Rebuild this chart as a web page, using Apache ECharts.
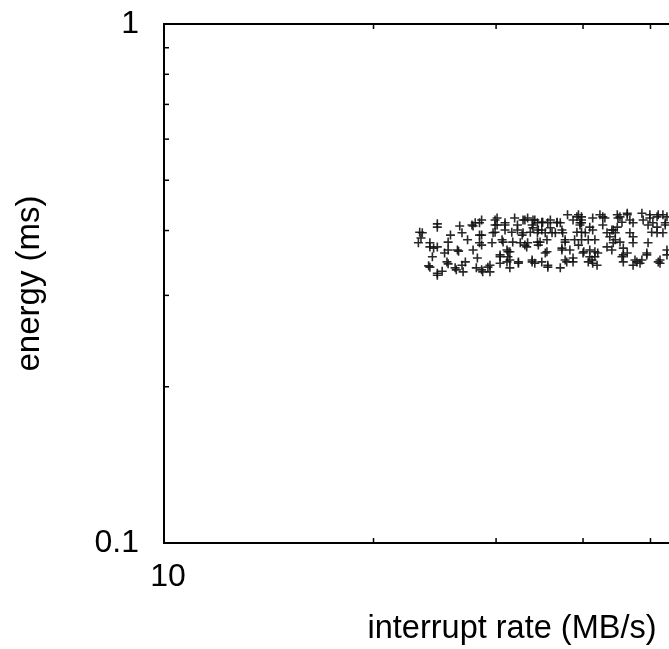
<!DOCTYPE html>
<html>
<head>
<meta charset="utf-8">
<script src="https://cdn.jsdelivr.net/npm/echarts@6/dist/echarts.min.js"></script>
<style>
html,body{margin:0;padding:0;background:#fff;overflow:hidden;width:669px;height:649px;}
#chart{width:920px;height:649px;}
</style>
</head>
<body>
<div id="chart"></div>
<script>
// interrupt rate (MB/s)
var rate = [
 23.3,23.5,23.4,23.2,24.7,24.7,26.6,27.8,28.4,28.6,
 29.9,29.9,29.9,25.8,25.6,26.8,27.3,28.4,24.1,24.7,
 25.3,25.6,26.5,27.8,28.6,29.6,24.3,28.2,30.4,24.0,
 25.6,27.1,26.8,26.3,25.1,24.7,26.9,28.1,28.7,29.4,29.4,
 30.1,30.1,30.9,31.9,32.2,33.0,33.3,34.1,34.4,34.9,
 35.9,36.7,38.0,39.2,39.8,39.6,30.9,31.6,32.8,33.6,
 33.9,34.5,35.3,35.9,36.5,37.3,39.2,39.8,30.6,30.7,
 31.7,32.5,33.3,34.4,34.5,35.5,37.7,38.9,39.4,31.1,
 31.4,33.2,35.3,37.3,38.3,40.0,31.2,30.4,31.1,32.3,
 33.8,34.1,34.9,35.6,37.7,38.7,31.4,37.1,
 39.8,39.8,42.7,43.0,44.9,46.3,46.7,48.6,49.9,51.1,
 52.1,52.8,52.5,51.1,49.6,47.2,45.5,40.9,41.3,42.7,
 40.3,44.0,44.5,43.7,46.7,50.2,52.1,40.7,41.6,44.2,
 45.2,47.2,49.6,43.3,44.0,45.7,41.6,40.1,52.8,42.0,
 46.3,49.4,40.9,45.5,52.8,40.7,41.3,45.7,47.8,48.6,
 51.3,47.2,48.3,51.6,
 24.1,24.4,26.2,28.6,29.2,28.0,27.7,28.6,28.4,26.4,
 25.5,24.1,24.7,29.7,30.9,30.4,31.2,31.4,32.2,32.3,
 32.8,32.7,33.0,33.8,33.9,34.4,33.8,34.7,34.9,35.0,
 35.5,35.6,36.1,35.6,36.7,37.1,37.4,37.3,37.7,37.9,
 38.7,38.7,39.4,39.6,39.8,40.9,41.2,41.6,41.9,41.3,
 42.3,43.3,44.2,44.5,44.8,44.8,45.2,45.7,46.3,47.2,
 47.5,48.8,49.4,49.9,50.4,51.1,51.3,51.6,52.5
];
// energy (ms)
var energy = [
 0.397,0.396,0.387,0.379,0.412,0.406,0.408,0.408,0.414,0.419,
 0.419,0.410,0.397,0.392,0.380,0.396,0.384,0.392,0.372,0.372,
 0.362,0.367,0.365,0.367,0.375,0.379,0.356,0.354,0.356,0.342,
 0.345,0.348,0.343,0.336,0.334,0.328,0.333,0.339,0.333,0.343,0.333,
 0.423,0.410,0.414,0.423,0.410,0.419,0.423,0.419,0.414,0.415,
 0.419,0.414,0.429,0.425,0.419,0.410,0.401,0.397,0.396,0.397,
 0.405,0.401,0.396,0.405,0.396,0.401,0.397,0.397,0.384,0.380,
 0.380,0.379,0.379,0.380,0.375,0.384,0.380,0.384,0.375,0.367,
 0.364,0.372,0.362,0.367,0.367,0.362,0.356,0.346,0.348,0.348,
 0.351,0.346,0.348,0.343,0.351,0.348,0.339,0.339,
 0.425,0.414,0.425,0.423,0.423,0.429,0.419,0.432,0.423,0.425,
 0.429,0.425,0.410,0.406,0.410,0.414,0.415,0.406,0.401,0.410,
 0.396,0.401,0.396,0.389,0.396,0.397,0.396,0.384,0.384,0.379,
 0.380,0.379,0.379,0.372,0.367,0.370,0.364,0.364,0.367,0.362,
 0.362,0.362,0.356,0.356,0.359,0.348,0.346,0.348,0.348,0.351,
 0.348,0.343,0.346,0.346,
 0.379,0.370,0.339,0.336,0.340,0.414,0.410,0.392,0.379,0.367,
 0.348,0.340,0.331,0.396,0.410,0.359,0.364,0.351,0.401,0.346,
 0.419,0.392,0.375,0.410,0.419,0.396,0.348,0.380,0.401,0.415,
 0.364,0.414,0.396,0.340,0.415,0.414,0.396,0.370,0.384,0.348,
 0.354,0.419,0.429,0.414,0.384,0.367,0.351,0.356,0.343,0.423,
 0.429,0.396,0.401,0.384,0.429,0.406,0.425,0.359,0.432,0.389,
 0.351,0.419,0.359,0.429,0.414,0.396,0.429,0.351,0.414
];
var xRange = [10, 100];
var yRange = [0.1, 1];
var xMinorTicks = [20, 30, 40, 50, 60, 70, 80, 90];
var yMinorTicks = [0.2, 0.3, 0.4, 0.5, 0.6, 0.7, 0.8, 0.9];
var xTitle = 'interrupt rate (MB/s)';
var yTitle = 'energy (ms)';

var FONT = '"Liberation Sans", Arial, Helvetica, sans-serif';
var points = rate.map(function (r, i) { return [r, energy[i]]; });

var chart = echarts.init(document.getElementById('chart'), null, { renderer: 'canvas' });

function tickLine(x1, y1, x2, y2) {
  return { type: 'line', shape: { x1: x1, y1: y1, x2: x2, y2: y2 },
    style: { stroke: '#000', lineWidth: 1.5 } };
}

chart.setOption({
  animation: false,
  backgroundColor: '#fff',
  grid: { left: 164, top: 24, width: 696, height: 519, show: true,
    outerBoundsMode: 'none', containLabel: false,
    borderColor: '#000', borderWidth: 2, backgroundColor: 'transparent' },
  xAxis: {
    type: 'log', logBase: 10, min: xRange[0], max: xRange[1],
    name: xTitle, nameLocation: 'middle', nameGap: 70,
    nameTextStyle: { fontFamily: FONT, fontSize: 32.5, color: '#000' },
    axisLine: { show: true, lineStyle: { color: '#000', width: 2 } },
    axisTick: { show: true, inside: true, length: 10, lineStyle: { color: '#000', width: 1.5 } },
    splitLine: { show: false },
    axisLabel: { fontFamily: FONT, fontSize: 32, color: '#000', margin: 18,
      padding: [0, 0, 0, 8],
      formatter: function (v) { return String(Math.round(v)); } }
  },
  yAxis: {
    type: 'log', logBase: 10, min: yRange[0], max: yRange[1],
    name: yTitle, nameLocation: 'middle', nameGap: 118, nameRotate: 90,
    nameTextStyle: { fontFamily: FONT, fontSize: 33, color: '#000' },
    axisLine: { show: true, lineStyle: { color: '#000', width: 2 } },
    axisTick: { show: true, inside: true, length: 10, lineStyle: { color: '#000', width: 1.5 } },
    splitLine: { show: false },
    axisLabel: { fontFamily: FONT, fontSize: 32, color: '#000', margin: 25,
      formatter: function (v) { return v < 0.5 ? '0.1' : '1'; } }
  },
  series: [
    {
      type: 'scatter',
      data: points,
      symbol: 'path://M3.7,0L5.3,0L5.3,9L3.7,9Z M0,3.7L9,3.7L9,5.3L0,5.3Z',
      symbolSize: 9,
      itemStyle: { color: '#111', opacity: 0.9 },
      silent: true
    },
    {
      type: 'custom',
      data: xMinorTicks.map(function (v) { return [v, yRange[0]]; }),
      clip: false,
      silent: true,
      renderItem: function (params, api) {
        var v = api.value(0);
        var b = api.coord([v, yRange[0]]);
        var t = api.coord([v, yRange[1]]);
        return { type: 'group', children: [
          tickLine(b[0], b[1], b[0], b[1] - 5),
          tickLine(t[0], t[1], t[0], t[1] + 5)
        ] };
      }
    },
    {
      type: 'custom',
      data: yMinorTicks.map(function (v) { return [xRange[0], v]; }),
      clip: false,
      silent: true,
      renderItem: function (params, api) {
        var v = api.value(1);
        var l = api.coord([xRange[0], v]);
        var r = api.coord([xRange[1], v]);
        return { type: 'group', children: [
          tickLine(l[0], l[1], l[0] + 5, l[1]),
          tickLine(r[0], r[1], r[0] - 5, r[1])
        ] };
      }
    }
  ]
});
</script>
</body>
</html>
